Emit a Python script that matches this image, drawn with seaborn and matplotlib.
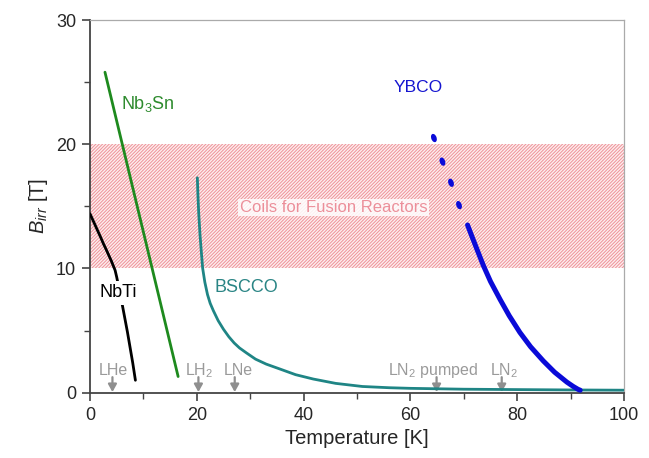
import matplotlib
matplotlib.use("Agg")
import matplotlib.pyplot as plt
from matplotlib.markers import MarkerStyle
from matplotlib.transforms import Affine2D
import seaborn as sns
import pandas as pd

# ---- data ----
nbti_T = [0, 1, 2, 2.5, 3, 4, 4.7, 5.0, 5.9, 7.0, 8.0, 8.5]
nbti_B = [14.4, 13.45, 12.5, 12.0, 11.55, 10.6, 9.85, 9.3, 7.4, 4.9, 2.4, 1.0]

nb3sn_T = [2.8, 16.5]
nb3sn_B = [25.8, 1.3]

bscco_T = [20.1, 20.2, 20.35, 20.6, 20.85, 21.1, 21.5, 22.0, 22.5, 23.1, 24.0,
           25.0, 26.0, 27.0, 28.0, 29.3, 31.0, 33.0, 35.6, 38.5, 41.8, 46.0,
           51.0, 56.0, 60.0, 70.0, 80.0, 90.0, 100.0]
bscco_B = [17.3, 16.0, 14.5, 12.7, 11.3, 10.0, 8.9, 7.9, 7.2, 6.6, 5.8,
           5.1, 4.5, 4.0, 3.6, 3.2, 2.7, 2.3, 1.9, 1.45, 1.1, 0.75,
           0.5, 0.4, 0.35, 0.28, 0.25, 0.22, 0.2]

ybco_T = [70.7, 71.5, 72.5, 73.7, 75.0, 76.8, 78.5, 80.5, 82.5, 84.9, 87.0, 89.3, 90.5, 91.4, 91.8]
ybco_B = [13.5, 12.6, 11.5, 10.2, 8.95, 7.5, 6.2, 4.85, 3.7, 2.55, 1.65, 0.85, 0.5, 0.27, 0.2]

ybco_dot_T = [64.4, 66.0, 67.6, 69.1]
ybco_dot_B = [20.5, 18.6, 16.9, 15.1]

cryo_labels = ["LHe", "LH$_2$", "LNe", "LN$_2$ pumped", "LN$_2$"]
cryo_T = [4.2, 20.3, 27.1, 64.9, 77.1]
cryo_label_T = [4.4, 20.5, 27.8, 64.3, 77.6]

fusion_band = [10, 20]

x_ticks = [0, 20, 40, 60, 80, 100]
y_ticks = [0, 10, 20, 30]

# ---- style ----
sns.set_style("ticks")
plt.rcParams["font.family"] = ["Liberation Sans", "DejaVu Sans"]
plt.rcParams["mathtext.fontset"] = "custom"
plt.rcParams["mathtext.rm"] = "Liberation Sans"
plt.rcParams["mathtext.it"] = "Liberation Sans:italic"
plt.rcParams["hatch.linewidth"] = 0.7

fig = plt.figure(figsize=(6.49, 4.58), dpi=100)
ax = fig.add_axes([0.1387, 0.1426, 0.8228, 0.8137])

# fusion coil band
ax.axhspan(fusion_band[0], fusion_band[1], xmin=0, xmax=1, facecolor="#fdeeee",
           edgecolor="#ee9199", hatch="//////////", linewidth=0, zorder=0)
ax.text(45.6, 14.9, "Coils for Fusion Reactors", color="#ec8f9a", fontsize=12,
        ha="center", va="center", zorder=1,
        bbox=dict(facecolor="white", edgecolor="none", pad=1.0, alpha=0.85))

df_nbti = pd.DataFrame({"T": nbti_T, "B": nbti_B})
df_nb3sn = pd.DataFrame({"T": nb3sn_T, "B": nb3sn_B})
df_bscco = pd.DataFrame({"T": bscco_T, "B": bscco_B})
df_ybco = pd.DataFrame({"T": ybco_T, "B": ybco_B})
df_ybco_dot = pd.DataFrame({"T": ybco_dot_T, "B": ybco_dot_B})

sns.lineplot(data=df_nbti, x="T", y="B", ax=ax, color="black", lw=2.0,
             sort=False, zorder=3, solid_joinstyle="round")
sns.lineplot(data=df_nb3sn, x="T", y="B", ax=ax, color="#1e8a1e", lw=2.0,
             sort=False, zorder=3)
sns.lineplot(data=df_bscco, x="T", y="B", ax=ax, color="#1f8585", lw=2.0,
             sort=False, zorder=3, solid_joinstyle="round")
sns.lineplot(data=df_ybco, x="T", y="B", ax=ax, color="#0a0ad8", lw=3.6,
             sort=False, zorder=4, solid_capstyle="round", solid_joinstyle="round")
dot_marker = MarkerStyle("o", transform=Affine2D().scale(1.0, 1.6).rotate_deg(20))
sns.scatterplot(data=df_ybco_dot, x="T", y="B", ax=ax, color="#0a0ad8", s=15,
                marker=dot_marker, edgecolor="none", zorder=4)

# curve labels
ax.text(5.8, 23.2, "Nb$_3$Sn", color="#2e8b2e", fontsize=13, ha="left", va="center", zorder=5)
ax.text(5.3, 8.05, "NbTi", color="black", fontsize=13, ha="center", va="center", zorder=5,
        bbox=dict(facecolor="white", edgecolor="none", pad=2.6))
ax.text(23.4, 8.5, "BSCCO", color="#2a8585", fontsize=13, ha="left", va="center", zorder=5)
ax.text(56.9, 24.6, "YBCO", color="#1515d0", fontsize=12.5, ha="left", va="center", zorder=5)

# cryogen markers
for name, t, tl in zip(cryo_labels, cryo_T, cryo_label_T):
    ax.annotate("", xy=(t, 0.05), xytext=(t, 1.25),
                arrowprops=dict(arrowstyle="-|>,head_length=0.45,head_width=0.25",
                                color="#8f8f8f", lw=1.6, shrinkA=0, shrinkB=0),
                zorder=2)
    ax.text(tl, 1.8, name, color="#9a9a9a", fontsize=11.5, ha="center", va="center", zorder=2)

# axes
ax.set_xlim(0, 100)
ax.set_ylim(0, 30)
ax.set_xticks(x_ticks)
ax.set_yticks(y_ticks)
ax.set_xticks([10, 30, 50, 70, 90], minor=True)
ax.set_yticks([5, 15, 25], minor=True)
ax.tick_params(axis="both", which="major", labelsize=13, length=6, width=1.2,
               color="#444444", direction="out", pad=4)
ax.tick_params(axis="both", which="minor", length=4, width=1.0, color="#444444",
               direction="out")
ax.set_xlabel("Temperature [K]", fontsize=14.5, labelpad=4)
ax.set_ylabel("$B_{irr}$ [T]", fontsize=14.5, labelpad=4)

for s in ["left", "bottom"]:
    ax.spines[s].set_color("#444444")
    ax.spines[s].set_linewidth(1.3)
for s in ["top", "right"]:
    ax.spines[s].set_color("#aaaaaa")
    ax.spines[s].set_linewidth(0.9)
    ax.spines[s].set_visible(True)

fig.savefig("out.png", dpi=100)
